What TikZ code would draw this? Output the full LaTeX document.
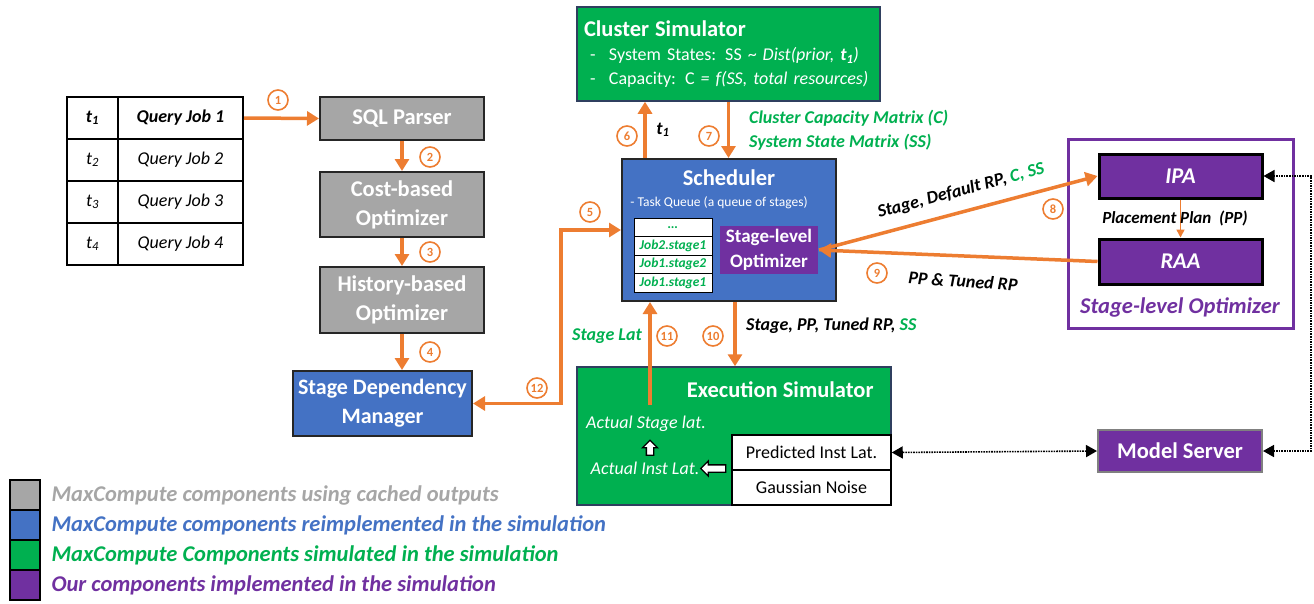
\documentclass[tikz,border=0pt]{standalone}
\usepackage{fontspec}
\setmainfont{Carlito}
\usetikzlibrary{arrows.meta, shapes.arrows}
\definecolor{msGray}{HTML}{A6A6A6}
\definecolor{msBlue}{HTML}{4472C4}
\definecolor{msGreen}{HTML}{00B050}
\definecolor{msPurple}{HTML}{7030A0}
\definecolor{msOrange}{HTML}{ED7D31}
\definecolor{msNavy}{HTML}{2F3F5F}

\tikzset{
  box/.style={draw, line width=2pt, text=white, align=center, inner sep=0pt,
    font=\fontsize{22.5}{29}\selectfont\bfseries},
  graybox/.style={box, fill=msGray, draw=black!85},
  bluebox/.style={box, fill=msBlue, draw=black!85},
  greenbox/.style={box, fill=msGreen, draw=msNavy, line width=1.5pt},
  purplebox/.style={box, fill=msPurple, draw=black, line width=3pt,
    font=\fontsize{22.5}{26}\selectfont\bfseries\itshape},
  cell/.style={draw, line width=2pt, inner sep=0pt, minimum height=42,
    font=\fontsize{18}{21}\selectfont\itshape},
  qcell/.style={draw, fill=white, line width=1pt, inner sep=0pt, minimum width=78,
    minimum height=18.5, text=msGreen, font=\fontsize{13.5}{15}\selectfont\bfseries\itshape},
  wcell/.style={draw, fill=white, line width=1.5pt, inner sep=0pt, minimum width=159,
    minimum height=35, font=\fontsize{18}{21}\selectfont},
  num/.style={circle, draw=msOrange, line width=1.6pt, text=msOrange, inner sep=0pt,
    minimum size=20, font=\fontsize{12.5}{12.5}\selectfont\bfseries},
  lbl/.style={inner sep=1pt, font=\fontsize{18}{24}\selectfont\bfseries\itshape},
  flow/.style={draw=msOrange, line width=3.5pt, -{Triangle[length=12pt,width=14pt]}},
  dotflow/.style={draw=black, line width=1.6pt, densely dotted,
    {Triangle[length=11pt,width=12pt]}-{Triangle[length=11pt,width=12pt]}},
  blockarrow/.style={single arrow, draw=black, fill=white, line width=1.3pt, inner sep=3pt,
    minimum width=15, single arrow head extend=4pt, single arrow head indent=0pt}
}

\begin{document}
\begin{tikzpicture}[x=1pt, y=-1pt]
  \useasboundingbox (0,0) rectangle (1314,603);

  % query job table
  \foreach \i/\f in {1/\bfseries, 2/, 3/, 4/}{
    \node[cell, minimum width=51] (t\i) at (92.5,{118+42*(\i-1)}) {\f t\textsubscript{\i}};
    \node[cell, minimum width=125] (q\i) at (180.5,{118+42*(\i-1)}) {\f Query Job \i};
  }

  % MaxCompute pipeline
  \node[graybox, minimum width=164, minimum height=43] (sql) at (402,118.5) {SQL Parser};
  \node[graybox, minimum width=164, minimum height=65] (cost) at (402,204.5) {Cost-based\\Optimizer};
  \node[graybox, minimum width=164, minimum height=66] (hist) at (402,300) {History-based\\Optimizer};
  \node[bluebox, minimum width=179, minimum height=65, font=\fontsize{22}{29}\selectfont\bfseries] (sdm) at (382.5,403.5) {Stage Dependency\\Manager};

  % cluster simulator
  \node[greenbox, minimum width=303, minimum height=94, text width=289, align=left,
    font=\fontsize{18}{24}\selectfont] (cluster) at (728.5,54)
    {{\fontsize{22.5}{26}\selectfont\bfseries Cluster Simulator}\\
     \makebox[25pt][l]{\ -}System States: SS \textasciitilde{} \textit{Dist(prior, \textbf{t\textsubscript{1}})}\\
     \makebox[25pt][l]{\ -}Capacity: C \textit{= f(SS, total resources)}};

  % scheduler
  \node[bluebox, minimum width=214, minimum height=142] (sched) at (729,230) {};
  \node[text=white, font=\fontsize{22.5}{26}\selectfont\bfseries] (schedtitle) at (729,178) {Scheduler};
  \node[text=white, font=\fontsize{13.5}{15}\selectfont] (taskq) at (719,203) {- Task Queue (a queue of stages)};
  \foreach \i/\s in {0/\dots, 1/Job2.stage1, 2/Job1.stage2, 3/Job1.stage1}{
    \node[qcell] (sq\i) at (673,{227.25+18.5*\i}) {\s};
  }
  \node[box, fill=msPurple, draw=none, minimum width=98, minimum height=48,
    font=\fontsize{19}{25}\selectfont\bfseries] (slo) at (769,250) {Stage-level\\Optimizer};

  % execution simulator
  \node[greenbox, minimum width=314, minimum height=138] (exec) at (734,436) {};
  \node[anchor=east, text=white, font=\fontsize{22.5}{26}\selectfont\bfseries] (exectitle) at (877,390) {Execution Simulator};
  \node[text=white, font=\fontsize{18}{21}\selectfont\itshape] (actstage) at (646,424) {Actual Stage lat.};
  \node[text=white, font=\fontsize{18}{21}\selectfont\itshape] (actinst) at (645,468) {Actual Inst Lat.};
  \node[wcell] (pred) at (811.5,452.5) {Predicted Inst Lat.};
  \node[wcell] (noise) at (811.5,487.5) {Gaussian Noise};
  \node[blockarrow, minimum height=15, rotate=90] (uparr) at (650,449.5) {};
  \node[blockarrow, minimum height=25, rotate=180] (leftarr) at (715,468.5) {};
  \coordinate (latsrc) at (650,405);

  % stage-level optimizer
  \node[draw=msPurple, line width=3pt, fill=white, minimum width=225, minimum height=189] (sloframe) at (1180.5,233.5) {};
  \node[purplebox, minimum width=163, minimum height=44] (ipa) at (1180.5,176) {IPA};
  \node[purplebox, minimum width=163, minimum height=45] (raa) at (1180.5,261.5) {RAA};
  \node[text=msPurple, font=\fontsize{22.5}{26}\selectfont\bfseries\itshape] (slotitle) at (1180,307) {Stage-level Optimizer};
  \node[box, fill=msPurple, draw=black!50, minimum width=164, minimum height=42] (model) at (1180,451) {Model Server};

  % orange connectors
  \draw[flow] (q1.east) -- (sql.west);
  \draw[flow] (sql.south) -- (cost.north);
  \draw[flow] (cost.south) -- (hist.north);
  \draw[flow] (hist.south) -- (hist.south |- sdm.north);
  \draw[flow, {Triangle[length=12pt,width=14pt]}-{Triangle[length=12pt,width=14pt]}] (sdm.east) -- ++(88,0) |- (sched.west);
  \draw[flow] ([xshift=-84]sched.north) -- ([xshift=-84]sched.north |- cluster.south);
  \draw[flow] (cluster.south) -- (cluster.south |- sched.north);
  \draw[flow] (slo.east) -- (ipa.west);
  \draw[flow] (raa.west) -- (slo.east);
  \draw[flow] ([xshift=6]sched.south) -- ([xshift=6]sched.south |- exec.north);
  \draw[flow] (latsrc) -- (latsrc |- sched.south);
  \draw[draw=msOrange, line width=1.5pt, -{Triangle[length=8pt,width=8pt]}] (ipa.south) -- (raa.north);

  % dotted connectors
  \draw[dotflow] (model.west) -- (pred.east);
  \draw[dotflow] (model.east) -- ++(48,0) |- (ipa.east);

  % step numbers
  \foreach \n/\x/\y in {1/278/100, 2/430/157, 3/430/252, 4/430/352, 5/590/212, 6/627/136,
      7/709/136, 8/1053/209, 9/877/273, 10/713/336, 11/667/336, 12/537/388}{
    \node[num] (n\n) at (\x,\y) {\n};
  }

  % connector labels
  \node[lbl] (tlbl) at (663,130) {t\textsubscript{1}};
  \node[lbl, text=msGreen, align=left, anchor=west] (ccm) at (748,130) {Cluster Capacity Matrix (C)\\System State Matrix (SS)};
  \node[lbl, text=msGreen] (stagelat) at (607,336) {Stage Lat};
  \node[lbl, anchor=west] (tolat) at (745,326) {Stage, PP, Tuned RP, \textcolor{msGreen}{SS}};
  \node[lbl, rotate=15] (toipa) at (961,191) {Stage, Default RP, \textcolor{msGreen}{C, SS}};
  \node[lbl, rotate=-4] (fromraa) at (963,281) {PP \& Tuned RP};
  \node[lbl, font=\fontsize{17}{20}\selectfont\bfseries\itshape] (pplbl) at (1175,218) {Placement Plan\ \ (PP)};

  % legend
  \foreach \i/\c/\t in {0/msGray/MaxCompute components using cached outputs,
      1/msBlue/MaxCompute components reimplemented in the simulation,
      2/msGreen/MaxCompute Components simulated in the simulation,
      3/msPurple/Our components implemented in the simulation}{
    \node[draw, line width=2pt, fill=\c, minimum size=30, inner sep=0pt] (key\i) at (25,{495+30*\i}) {};
    \node[anchor=west, text=\c, font=\fontsize{22.5}{26}\selectfont\bfseries\itshape] (keytxt\i) at (48,{495+30*\i}) {\t};
  }
\end{tikzpicture}
\end{document}
